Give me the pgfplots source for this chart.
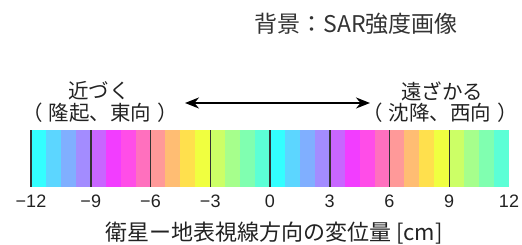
\documentclass[border=0pt]{standalone}
\usepackage{pgfplots}
\pgfplotsset{compat=1.18}
\usepackage{fontspec}
\setmainfont{Liberation Sans}
\newfontfamily\jp{Noto Sans CJK JP}
\usetikzlibrary{arrows.meta}
\definecolor{c1}{HTML}{33FFFF}
\definecolor{c2}{HTML}{5CD6FF}
\definecolor{c3}{HTML}{80AFFF}
\definecolor{c4}{HTML}{A38CFF}
\definecolor{c5}{HTML}{C866FF}
\definecolor{c6}{HTML}{F23DFF}
\definecolor{c7}{HTML}{FF4DE8}
\definecolor{c8}{HTML}{FF70BE}
\definecolor{c9}{HTML}{FF9999}
\definecolor{c10}{HTML}{FFBD73}
\definecolor{c11}{HTML}{FFE04D}
\definecolor{c12}{HTML}{F0FF40}
\definecolor{c13}{HTML}{CCFF66}
\definecolor{c14}{HTML}{A6FF8C}
\definecolor{c15}{HTML}{80FFB0}
\definecolor{c16}{HTML}{5CFFD6}
\definecolor{txt}{HTML}{222222}
\newcommand\band[3]{\addplot[fill=#1, draw=none] coordinates {(#2,0) (#3,0) (#3,1) (#2,1)} -- cycle;}
\begin{document}
\begin{tikzpicture}
\path[use as bounding box] (-31pt,-58pt) rectangle (491pt,187pt);
\begin{axis}[at={(0pt,0pt)}, anchor=south west, scale only axis,
  width=478pt, height=57pt, xmin=-12, xmax=12, ymin=0, ymax=1,
  axis line style={draw=none}, ytick=\empty,
  xtick={-12,-9,-6,-3,0,3,6,9,12},
  xticklabels={−12,−9,−6,−3,0,3,6,9,12},
  major tick length=0pt,
  xticklabel style={font=\fontsize{18}{18}\selectfont, text=txt, anchor=center, inner sep=0pt, yshift=-14.5pt},
  clip=false]
\band{c1}{-12}{-11.25}
\band{c2}{-11.25}{-10.5}
\band{c3}{-10.5}{-9.75}
\band{c4}{-9.75}{-9}
\band{c5}{-9}{-8.25}
\band{c6}{-8.25}{-7.5}
\band{c7}{-7.5}{-6.75}
\band{c8}{-6.75}{-6}
\band{c9}{-6}{-5.25}
\band{c10}{-5.25}{-4.5}
\band{c11}{-4.5}{-3.75}
\band{c12}{-3.75}{-3}
\band{c13}{-3}{-2.25}
\band{c14}{-2.25}{-1.5}
\band{c15}{-1.5}{-0.75}
\band{c16}{-0.75}{0}
\band{c1}{0}{0.75}
\band{c2}{0.75}{1.5}
\band{c3}{1.5}{2.25}
\band{c4}{2.25}{3}
\band{c5}{3}{3.75}
\band{c6}{3.75}{4.5}
\band{c7}{4.5}{5.25}
\band{c8}{5.25}{6}
\band{c9}{6}{6.75}
\band{c10}{6.75}{7.5}
\band{c11}{7.5}{8.25}
\band{c12}{8.25}{9}
\band{c13}{9}{9.75}
\band{c14}{9.75}{10.5}
\band{c15}{10.5}{11.25}
\band{c16}{11.25}{12}
\addplot[draw=black!80, line width=1.5pt] coordinates {(-12,0) (-12,1)};
\addplot[draw=black!80, line width=1.5pt] coordinates {(-9,0) (-9,1)};
\addplot[draw=black!80, line width=1.5pt] coordinates {(-6,0) (-6,1)};
\addplot[draw=black!80, line width=1.5pt] coordinates {(-3,0) (-3,1)};
\addplot[draw=black!80, line width=1.5pt] coordinates {(0,0) (0,1)};
\addplot[draw=black!80, line width=1.5pt] coordinates {(3,0) (3,1)};
\addplot[draw=black!80, line width=1.5pt] coordinates {(6,0) (6,1)};
\addplot[draw=black!80, line width=1.5pt] coordinates {(9,0) (9,1)};
\end{axis}
\node[inner sep=0pt, text=black!80, font=\jp\fontsize{23}{23}\selectfont] at (325pt,163pt) {背景：SAR強度画像};
\node[inner sep=0pt, text=txt, font=\jp\fontsize{20.5}{20.5}\selectfont] at (68pt,96pt) {近づく};
\node[inner sep=0pt, text=txt, font=\jp\fontsize{20.5}{20.5}\selectfont] at (69pt,74pt) {（\hspace{0.3em}隆起、東向\hspace{0.3em}）};
\node[inner sep=0pt, text=txt, font=\jp\fontsize{20.5}{20.5}\selectfont] at (411pt,96pt) {遠ざかる};
\node[inner sep=0pt, text=txt, font=\jp\fontsize{20.5}{20.5}\selectfont] at (409pt,74pt) {（\hspace{0.3em}沈降、西向\hspace{0.3em}）};
\draw[line width=2pt, black, {Stealth[length=14pt,width=11pt]}-{Stealth[length=14pt,width=11pt]}] (154pt,84pt) -- (339pt,84pt);
\node[inner sep=0pt, text=txt, font=\jp\fontsize{22}{22}\selectfont] at (243pt,-46pt) {衛星ー地表視線方向の変位量 [cm]};
\end{tikzpicture}
\end{document}
